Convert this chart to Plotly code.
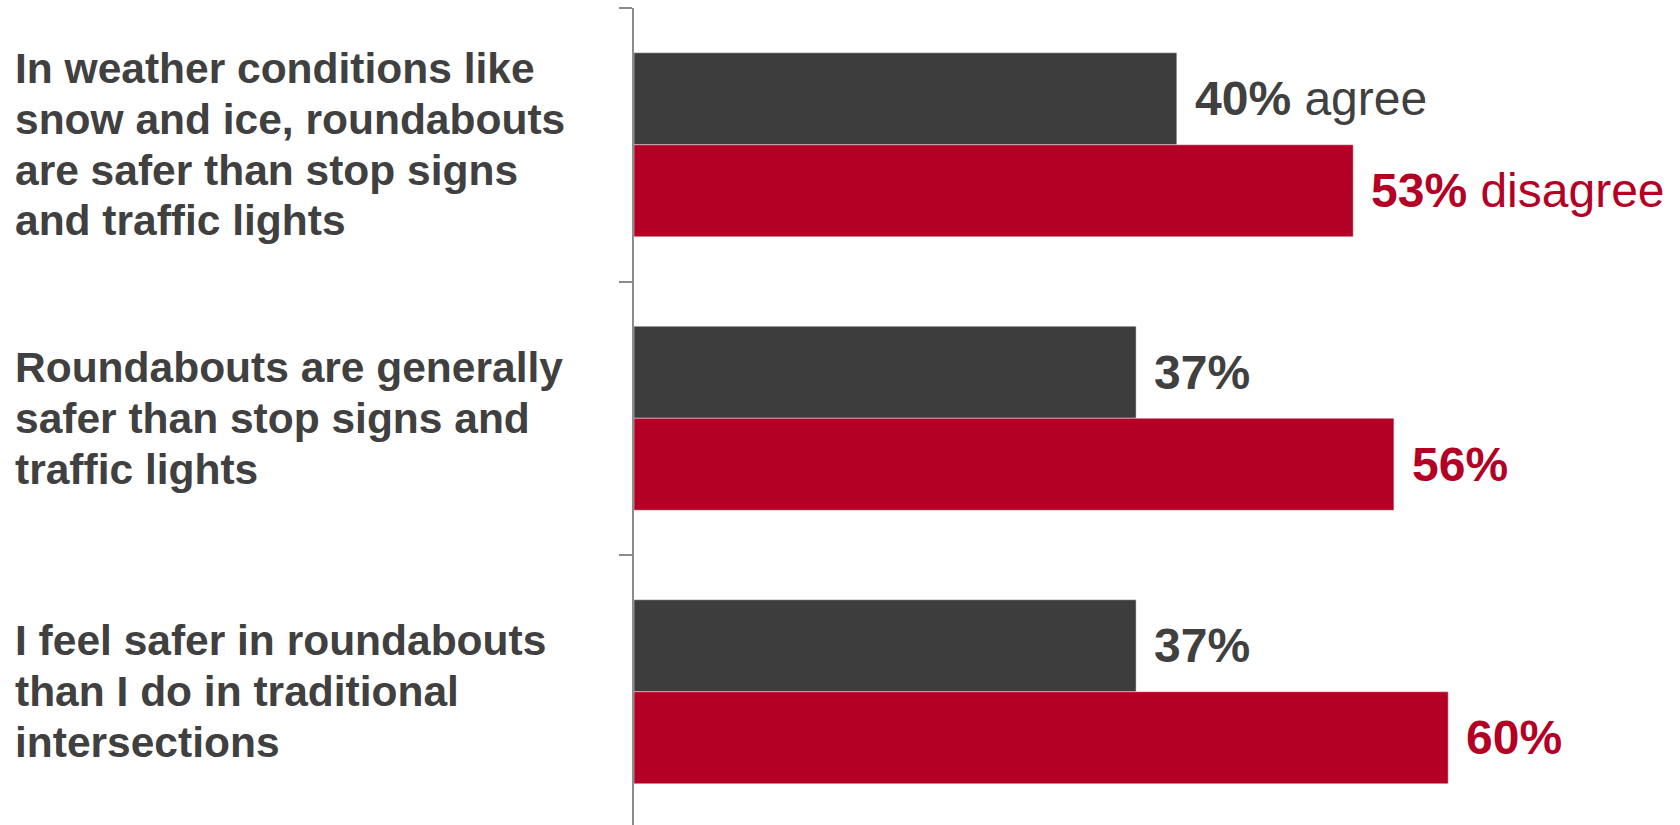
import plotly.graph_objects as go

# Survey statements (top to bottom), one list of lines per statement
statements = [
    ["In weather conditions like", "snow and ice, roundabouts",
     "are safer than stop signs", "and traffic lights"],
    ["Roundabouts are generally", "safer than stop signs and",
     "traffic lights"],
    ["I feel safer in roundabouts", "than I do in traditional",
     "intersections"],
]
# Response shares in percent
agree = [40, 37, 37]
disagree = [53, 56, 60]
agree_suffix = [" agree", "", ""]
disagree_suffix = [" disagree", "", ""]

DARK = "#3d3d3d"
RED = "#b40024"
TEXT = "#404040"
FONT = "Liberation Sans, Arial, sans-serif"

W, H = 1680, 825
L_MARGIN, T_MARGIN = 634, 8
PX_PER_PCT = 13.57
BAND_PX = 273.5
LINE_PX = 50.8

positions = list(range(len(statements)))
x_max = (W - L_MARGIN) / PX_PER_PCT
y_bottom = -0.5 + (H - T_MARGIN) / BAND_PX

fig = go.Figure()
fig.add_trace(go.Bar(y=positions, x=agree, orientation="h", marker_color=DARK,
                     name="agree", hoverinfo="skip"))
fig.add_trace(go.Bar(y=positions, x=disagree, orientation="h", marker_color=RED,
                     name="disagree", hoverinfo="skip"))

bar_w = (1 - 0.327) / 2
line_step = LINE_PX / BAND_PX
annotations = []
for i, lines in enumerate(statements):
    n = len(lines)
    for k, line in enumerate(lines):
        annotations.append(dict(
            x=-(L_MARGIN - 13) / (W - L_MARGIN), xref="paper", xanchor="left",
            y=i + (k - (n - 1) / 2) * line_step, yref="y", yanchor="middle",
            align="left", showarrow=False, text=f"<b>{line}</b>",
            font=dict(family=FONT, size=42.5, color=TEXT),
        ))
    annotations.append(dict(
        x=agree[i], xref="x", xanchor="left", xshift=16,
        y=i - bar_w / 2, yref="y", yanchor="middle", showarrow=False,
        text=f"<b>{agree[i]}%</b>{agree_suffix[i]}",
        font=dict(family=FONT, size=48, color=TEXT),
    ))
    annotations.append(dict(
        x=disagree[i], xref="x", xanchor="left", xshift=16,
        y=i + bar_w / 2, yref="y", yanchor="middle", showarrow=False,
        text=f"<b>{disagree[i]}%</b>{disagree_suffix[i]}",
        font=dict(family=FONT, size=48, color=RED),
    ))

fig.update_layout(
    width=W, height=H,
    margin=dict(l=L_MARGIN, r=0, t=T_MARGIN, b=0),
    paper_bgcolor="white", plot_bgcolor="white",
    barmode="group", bargap=0.327, bargroupgap=0,
    showlegend=False,
    annotations=annotations,
    xaxis=dict(range=[0, x_max], visible=False, showgrid=False, zeroline=False),
    yaxis=dict(range=[y_bottom, -0.5], tickvals=[-0.5, 0.5, 1.5],
               showticklabels=False, ticks="outside", ticklen=13,
               tickwidth=2, tickcolor="#8c8c8c", showline=True,
               linecolor="#8c8c8c", linewidth=2, showgrid=False,
               zeroline=False),
)

fig.write_html("out.html")
